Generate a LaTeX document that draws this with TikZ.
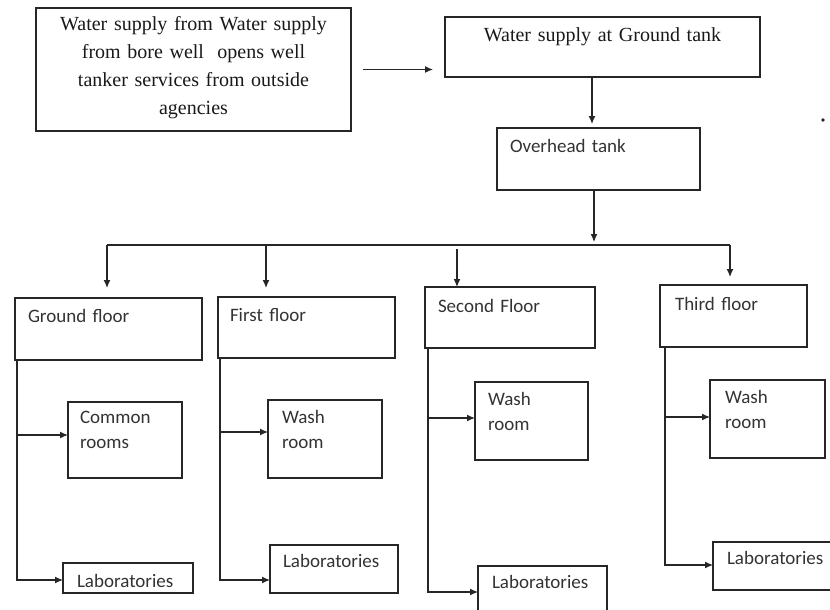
\documentclass[tikz,border=0pt]{standalone}
\usepackage{fontspec}
\setmainfont{Liberation Serif}
\setsansfont{Carlito}
\usetikzlibrary{arrows.meta,calc}
\hyphenpenalty=10000
\begin{document}
\begin{tikzpicture}[x=1pt,y=-1pt,
  ln/.style={draw=black!85, line width=1.2pt},
  arr/.style={ln, -{Latex[length=8pt,width=7pt]}},
  bx/.style={draw=black!85, line width=1.2pt, inner ysep=0pt, outer sep=0pt, anchor=north west, align=left, text=black!80,
    font=\sffamily\fontsize{19}{25}\selectfont},
  sbx/.style={bx, align=center, text=black!90, font=\rmfamily\fontsize{20}{28}\selectfont},
]
\useasboundingbox (0,0) rectangle (830,610);
\clip (0,0) rectangle (830,610);

% top boxes
\node[sbx, inner xsep=4pt, text width=307pt, text height=23pt, text depth=100pt] (src) at (36,8)
  {Water supply from Water supply\\ from bore well\ \ opens well\\ tanker services from outside\\ agencies};
\node[sbx, inner xsep=4pt, text width=307pt, text height=25pt, text depth=35pt] (gt) at (445,17)
  {Water supply at Ground tank};
\node[bx, inner xsep=13pt, text width=177pt, text height=24pt, text depth=38pt] (oh) at (497,128) {Overhead tank};

% floor boxes
\node[bx, inner xsep=13pt, text width=161pt, text height=24pt, text depth=38pt] (gf) at (15,298) {Ground floor};
\node[bx, inner xsep=12pt, text width=153pt, text height=24pt, text depth=37pt] (ff) at (218,297) {First floor};
\node[bx, inner xsep=13pt, text width=144pt, text height=25pt, text depth=36pt] (sf) at (425,287) {Second Floor};
\node[bx, inner xsep=15pt, text width=117pt, text height=25pt, text depth=37pt] (tf) at (660,285) {Third floor};

% room boxes
\node[bx, inner xsep=12pt, text width=90pt, text height=21pt, text depth=55pt] (cr) at (68,402) {Common\\rooms};
\node[bx, inner xsep=14pt, text width=86pt, text height=23pt, text depth=55pt] (wr1) at (268,400) {Wash\\room};
\node[bx, inner xsep=13pt, text width=87pt, text height=23pt, text depth=55pt] (wr2) at (475,382) {Wash\\room};
\node[bx, inner xsep=15pt, text width=85pt, text height=23pt, text depth=55pt] (wr3) at (710,380) {Wash\\room};

% laboratories
\node[bx, inner xsep=14pt, text width=102pt, text height=24pt, text depth=6pt] (lab1) at (63,563) {Laboratories};
\node[bx, inner xsep=13pt, text width=102pt, text height=22pt, text depth=26pt] (lab2) at (270,545) {Laboratories};
\node[bx, inner xsep=14pt, text width=101pt, text height=22pt, text depth=32pt] (lab3) at (478,566) {Laboratories};
\node[bx, inner xsep=14pt, text width=102pt, text height=22pt, text depth=26pt] (lab4) at (713,542) {Laboratories};

% top connectors
\draw[arr] ([xshift=12pt]src.east) -- ($(gt.west |- src.east)+(-12,0)$);
\draw[arr] ([xshift=-10.5pt]gt.south) -- ($(oh.north)+(-6.5,-4)$);
\coordinate (bus) at (594,245);
\draw[arr] ([xshift=-4.5pt]oh.south) -- ($(bus)+(0,-3)$);

% distribution bus
\coordinate (b1) at (107,245);
\coordinate (b2) at (266,245);
\coordinate (b3) at (457,249);
\coordinate (b4) at (730,245);
\draw[ln] (b1) -- (b4);
\draw[arr] (b1) -- ($(gf.north -| b1)+(0,-10)$);
\draw[arr] (b2) -- ($(ff.north -| b2)+(0,-9)$);
\draw[arr] (b3) -- (sf.north -| b3);
\draw[arr] (b4) -- ($(tf.north -| b4)+(0,-8)$);

% floor risers
\coordinate (v1) at ($(gf.south west)+(2,0)$);
\coordinate (v2) at ($(ff.south west)+(2,0)$);
\coordinate (v3) at ($(sf.south west)+(3,0)$);
\coordinate (v4) at ($(tf.south west)+(5,0)$);

\draw[arr] (v1) |- ($(lab1.west)+(0,2)$);
\draw[arr] ($(v1 |- cr.west)+(0,-5)$) -- ($(cr.west)+(0,-5)$);

\draw[arr] (v2) |- ($(lab2.west)+(0,11)$);
\draw[arr] ($(v2 |- wr1.west)+(0,-7)$) -- ($(wr1.west)+(0,-7)$);

\draw[arr] (v3) |- ($(lab3.west)+(0,-1)$);
\draw[arr] ($(v3 |- wr2.west)+(0,-3)$) -- ($(wr2.west)+(0,-3)$);

\draw[arr] (v4) |- ($(lab4.west)+(0,-1)$);
\draw[arr] ($(v4 |- wr3.west)+(0,-2)$) -- ($(wr3.west)+(0,-2)$);

% stray dot
\fill[black!85] (823,120) circle (1.8);
\end{tikzpicture}
\end{document}
